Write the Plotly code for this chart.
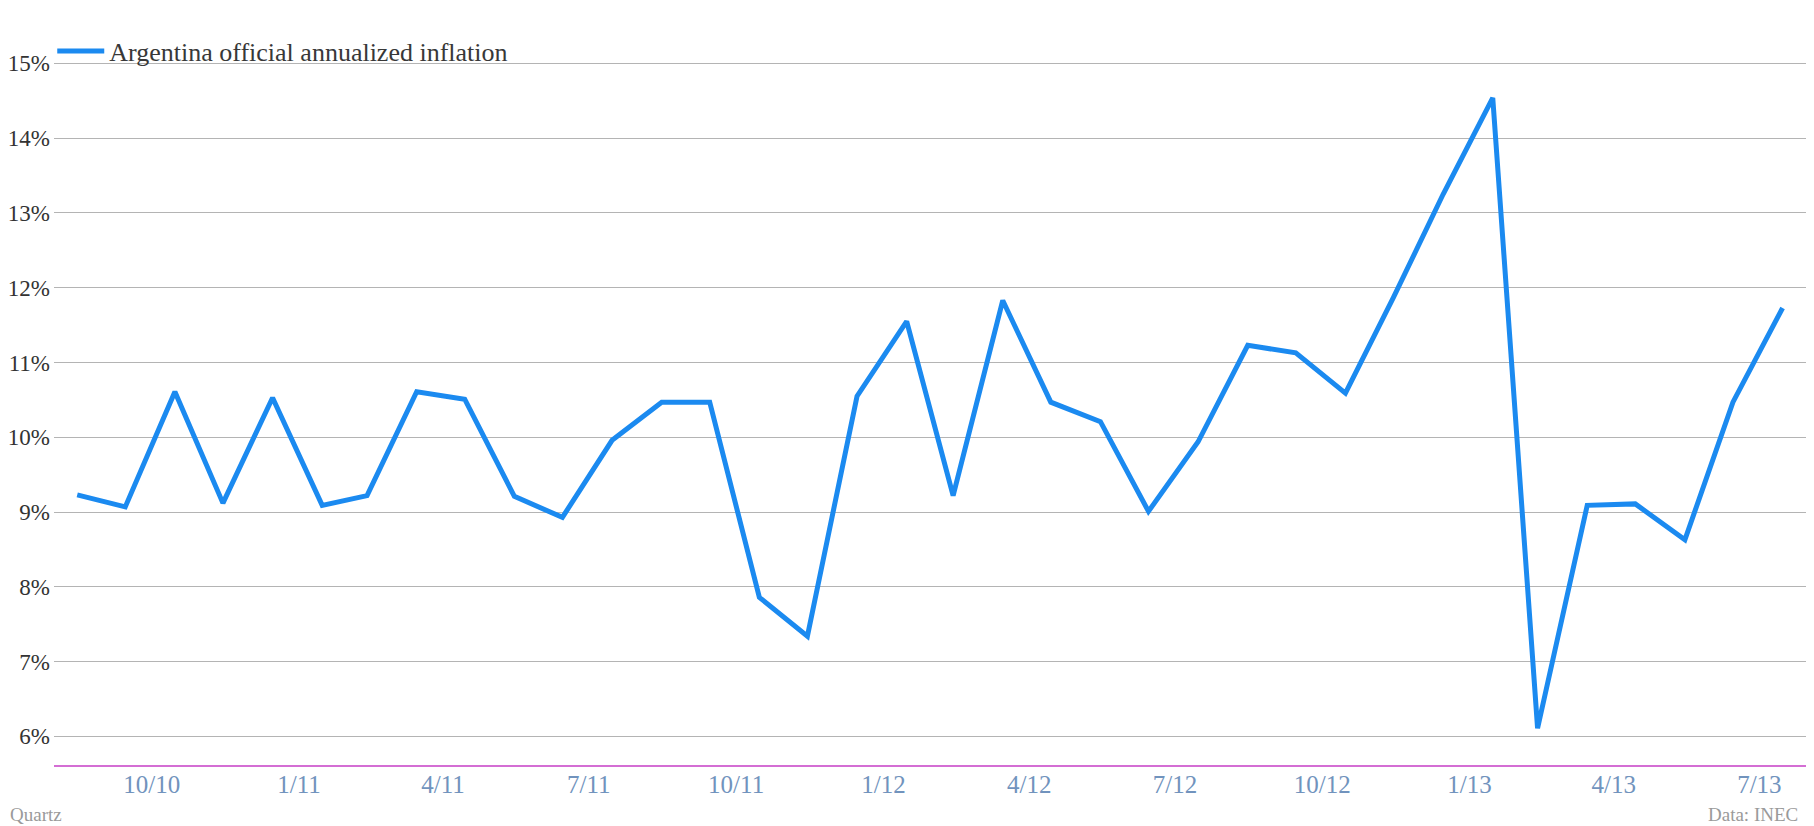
import plotly.graph_objects as go

# ---- data ----
months = [
    "2010-09-01", "2010-10-01", "2010-11-01", "2010-12-01",
    "2011-01-01", "2011-02-01", "2011-03-01", "2011-04-01", "2011-05-01", "2011-06-01",
    "2011-07-01", "2011-08-01", "2011-09-01", "2011-10-01", "2011-11-01", "2011-12-01",
    "2012-01-01", "2012-02-01", "2012-03-01", "2012-04-01", "2012-05-01", "2012-06-01",
    "2012-07-01", "2012-08-01", "2012-09-01", "2012-10-01", "2012-11-01", "2012-12-01",
    "2013-01-01", "2013-02-01", "2013-03-01", "2013-04-01", "2013-05-01", "2013-06-01",
    "2013-07-01", "2013-08-01",
]
inflation = [
    9.23, 9.07, 10.61, 9.12,
    10.53, 9.09, 9.22, 10.61, 10.51, 9.21,
    8.93, 9.96, 10.47, 10.47, 7.86, 7.34,
    10.55, 11.55, 9.22, 11.83, 10.47, 10.21,
    9.01, 9.94, 11.23, 11.13, 10.59, 11.87,
    13.25, 14.54, 6.11, 9.09, 9.11, 8.63,
    10.47, 11.73,
]
tick_dates = [
    "2010-10-17 12:00", "2011-01-17 12:00", "2011-04-17 12:00", "2011-07-17 12:00",
    "2011-10-17 12:00", "2012-01-17 12:00", "2012-04-17 12:00", "2012-07-17 12:00",
    "2012-10-17 12:00", "2013-01-17 12:00", "2013-04-17 12:00", "2013-07-17 12:00",
]
tick_labels = ["10/10", "1/11", "4/11", "7/11", "10/11", "1/12",
               "4/12", "7/12", "10/12", "1/13", "4/13", "7/13"]
y_ticks = [6, 7, 8, 9, 10, 11, 12, 13, 14, 15]
y_tick_labels = [f"{v}%" for v in y_ticks]
series_name = "Argentina official annualized inflation"

FONT = "Liberation Serif"
# page body has an 8px margin, so the figure is sized to fit the 1814x826 window
W, H = 1806, 818
ML, MR, MT, MB = 46, 7, 33, 61
PW = W - ML - MR

fig = go.Figure()
fig.add_trace(go.Scatter(
    x=months, y=inflation, mode="lines", name=series_name,
    line=dict(color="#1b8af0", width=5),
))

fig.update_layout(
    width=W, height=H,
    margin=dict(l=ML, r=MR, t=MT, b=MB, autoexpand=False),
    paper_bgcolor="white", plot_bgcolor="white",
    font=dict(family=FONT, size=23, color="#333333"),
    showlegend=True,
    legend=dict(
        x=-0.001, y=0.986, xanchor="left", yanchor="middle",
        bgcolor="rgba(0,0,0,0)", font=dict(family=FONT, size=26, color="#383838"),
        itemwidth=47,
    ),
    xaxis=dict(
        type="date", automargin=False,
        range=["2010-08-17 12:00", "2013-08-16 06:00"],
        tickvals=tick_dates, ticktext=tick_labels,
        tickfont=dict(family=FONT, size=25, color="#7193bd"),
        showgrid=False, zeroline=False,
        showline=True, linecolor="#d46ed4", linewidth=1.5,
        ticks="", ticklabelstandoff=-4,
    ),
    yaxis=dict(
        automargin=False,
        range=[5.618, 15.3],
        tickvals=y_ticks, ticktext=y_tick_labels,
        tickfont=dict(family=FONT, size=23, color="#333333"),
        showgrid=True, gridcolor="#b4b4b4", gridwidth=1,
        zeroline=False, showline=False, ticks="", ticklabelstandoff=3,
    ),
    annotations=[
        dict(text="Quartz", xref="paper", yref="paper", x=-ML / PW, y=0,
             xanchor="left", yanchor="middle", yshift=-49, showarrow=False,
             font=dict(family=FONT, size=19, color="#9a9a9a")),
        dict(text="Data: INEC", xref="paper", yref="paper", x=1, y=0,
             xanchor="right", yanchor="middle", yshift=-49, xshift=-7, showarrow=False,
             font=dict(family=FONT, size=19, color="#9a9a9a")),
    ],
    shapes=[
        dict(type="line", xref="paper", yref="paper",
             x0=1 + 5.5 / PW, x1=1 + 5.5 / PW, y0=-0.2, y1=1.2,
             line=dict(color="#cfcfcf", width=2)),
    ],
)

fig.write_html("out.html")
